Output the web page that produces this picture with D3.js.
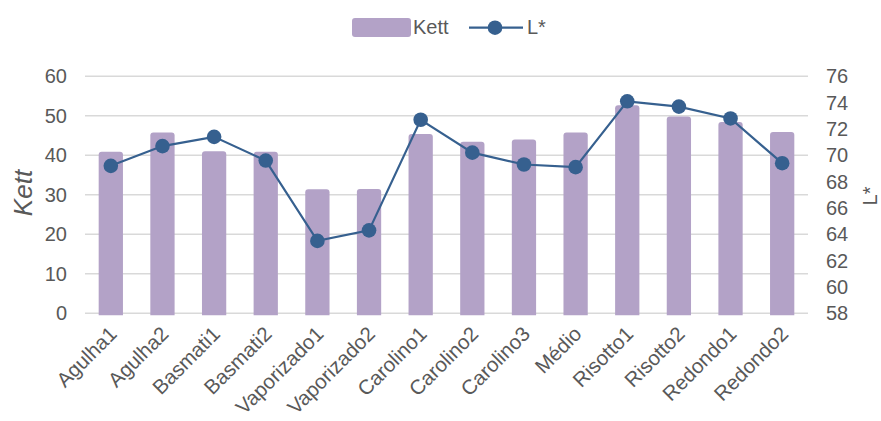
<!DOCTYPE html>
<html><head><meta charset="utf-8">
<script src="https://cdn.jsdelivr.net/npm/d3@7"></script>
<style>
body{margin:0;background:#fff;}
svg{display:block;font-family:"Liberation Sans",Arial,sans-serif;}
</style></head>
<body><svg id="c" width="881" height="421"></svg>
<script>
const categories = ["Agulha1","Agulha2","Basmati1","Basmati2","Vaporizado1","Vaporizado2","Carolino1","Carolino2","Carolino3","Médio","Risotto1","Risotto2","Redondo1","Redondo2"];
const kett = [40.9,45.8,41.0,40.9,31.4,31.5,45.4,43.4,44.0,45.8,52.7,49.8,48.4,45.9];
const lstar = [69.2,70.7,71.4,69.6,63.5,64.3,72.7,70.2,69.3,69.1,74.1,73.7,72.8,69.4];
const leftTicks = [0,10,20,30,40,50,60];
const rightTicks = [58,60,62,64,66,68,70,72,74,76];

const svg = d3.select("#c");
const x0 = 85, x1 = 808, yTop = 76.3, yBot = 313.3;
const x = d3.scaleBand().domain(categories).range([x0, x1]).paddingInner(0.53).paddingOuter(0.265);
const yL = d3.scaleLinear().domain([0,60]).range([yBot, yTop]);
const yR = d3.scaleLinear().domain([58,76]).range([yBot, yTop]);
const textCol = "#595959";
const FF = "Liberation Sans, Arial, sans-serif";

// gridlines
svg.append("g").selectAll("line").data(leftTicks).join("line")
  .attr("x1", x0).attr("x2", x1)
  .attr("y1", d => yL(d)).attr("y2", d => yL(d))
  .attr("stroke", "#d9d9d9").attr("stroke-width", 1.5);

// left axis
const ga = svg.append("g").attr("transform", `translate(${x0},0)`)
  .call(d3.axisLeft(yL).tickValues(leftTicks).tickSize(0).tickPadding(18));
ga.select(".domain").remove();
ga.selectAll("text").attr("fill", textCol).style("font-size", "20px").attr("font-family", FF);

// right axis
const gr = svg.append("g").attr("transform", `translate(${x1},0)`)
  .call(d3.axisRight(yR).tickValues(rightTicks).tickSize(0).tickPadding(18));
gr.select(".domain").remove();
gr.selectAll("text").attr("fill", textCol).style("font-size", "20px").attr("font-family", FF);

// bars
svg.append("g").selectAll("path").data(categories).join("path")
  .attr("fill", "#b3a2c7")
  .attr("d", (c, i) => {
    const bx = x(c), bw = x.bandwidth(), top = yL(kett[i]), bot = yL(0) + 2, r = 3;
    return `M${bx},${bot}V${top + r}Q${bx},${top} ${bx + r},${top}H${bx + bw - r}Q${bx + bw},${top} ${bx + bw},${top + r}V${bot}Z`;
  });

// line
const cx = c => x(c) + x.bandwidth() / 2;
svg.append("path").datum(categories)
  .attr("fill", "none").attr("stroke", "#36608f").attr("stroke-width", 2.2)
  .attr("d", d3.line().x(c => cx(c)).y((c, i) => yR(lstar[i])));
svg.append("g").selectAll("circle").data(categories).join("circle")
  .attr("cx", c => cx(c)).attr("cy", (c, i) => yR(lstar[i])).attr("r", 7.3)
  .attr("fill", "#36608f");

// x labels
svg.append("g").selectAll("text").data(categories).join("text")
  .attr("transform", c => `translate(${cx(c) - 3},${325}) rotate(-45)`)
  .attr("text-anchor", "end").attr("dy", "0.71em")
  .attr("fill", textCol).style("font-size", "20.5px").text(c => c);

// axis titles
svg.append("text").attr("transform", "translate(32,193) rotate(-90)")
  .attr("text-anchor", "middle").attr("fill", textCol)
  .style("font-size", "26px").style("font-style", "italic").text("Kett");
svg.append("text").attr("transform", "translate(877,196) rotate(-90)")
  .attr("text-anchor", "middle").attr("fill", textCol)
  .style("font-size", "20px").text("L*");

// legend
const lg = svg.append("g");
lg.append("rect").attr("x", 352).attr("y", 18).attr("width", 59).attr("height", 19).attr("rx", 3).attr("fill", "#b3a2c7");
lg.append("text").attr("x", 413).attr("y", 34).attr("fill", textCol).style("font-size", "20px").text("Kett");
lg.append("line").attr("x1", 469).attr("x2", 523).attr("y1", 27.7).attr("y2", 27.7).attr("stroke", "#36608f").attr("stroke-width", 2.2);
lg.append("circle").attr("cx", 495).attr("cy", 27.7).attr("r", 7.3).attr("fill", "#36608f");
lg.append("text").attr("x", 527).attr("y", 34).attr("fill", textCol).style("font-size", "20px").text("L*");
</script></body></html>
